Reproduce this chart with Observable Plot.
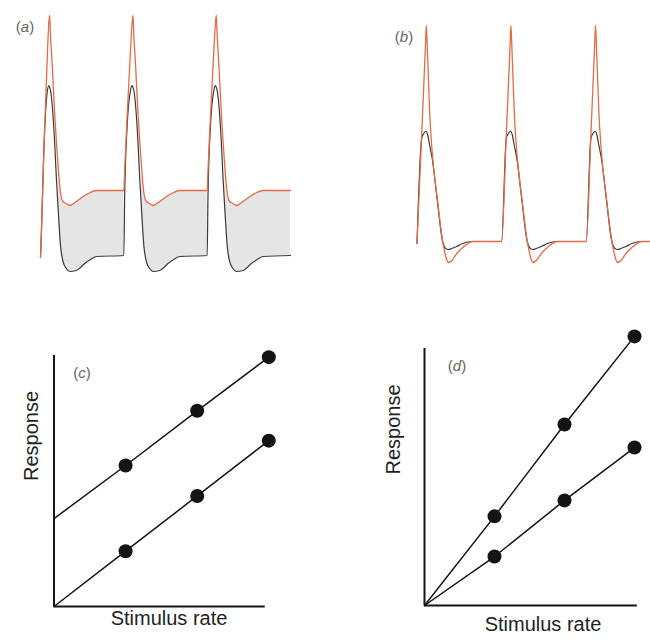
<!DOCTYPE html>
<html><head><meta charset="utf-8">
<script src="https://cdn.jsdelivr.net/npm/d3@7"></script>
<script src="https://cdn.jsdelivr.net/npm/@observablehq/plot@0.6"></script>
<style>
html,body{margin:0;padding:0;background:#fff;}
#fig{position:relative;width:650px;height:639px;overflow:hidden;font-family:"Liberation Sans",Arial,sans-serif;}
.lab{position:absolute;font-size:15px;line-height:1;color:#666;transform:translate(-50%,-50%);white-space:nowrap;}
</style></head><body><div id="fig"></div>
<script>
// ---------- Panel (a): membrane potential traces (a.u., mV-like), time in ms ----------
const aTime = [
  0, 1, 4, 8, 10, 11, 12, 14, 17, 19, 21.5, 24, 27, 31, 35, 43, 48, 53, 60, 67,
  100, 101, 104, 108, 110, 111, 112, 114, 117, 119, 121.5, 124, 127, 131, 135, 143, 148, 153, 160, 167,
  200, 201, 204, 208, 210, 211, 212, 214, 217, 219, 221.5, 224, 227, 231, 235, 243, 248, 253, 260, 267,
  300];
const aOrange = [
  -70.8, -62, -28, 8, 23.2, 26, 18, 6.8, -13.2, -24, -36, -44.8, -48.4, -49.2, -50, -48.4, -47.2, -46, -44.8, -44,
  -44, -36, -14, 12, 23.2, 26, 18, 6.8, -13.2, -24, -36, -44.8, -48.4, -49.2, -50, -48.4, -47.2, -46, -44.8, -44,
  -44, -36, -14, 12, 23.2, 26, 18, 6.8, -13.2, -24, -36, -44.8, -48.4, -49.2, -50, -48.4, -47.2, -46, -44.8, -44,
  -44];
const aBlack = [
  -70.8, -62, -28, -4.8, -2, -2.8, -4, -9.6, -24.8, -38.8, -53.2, -66, -72.4, -75.2, -76.4, -76, -74.8, -73.2, -71.6, -70.4,
  -70, -46, -18, -4, -2, -2.8, -4, -9.6, -24.8, -38.8, -53.2, -66, -72.4, -75.2, -76.4, -76, -74.8, -73.2, -71.6, -70.4,
  -70, -46, -18, -4, -2, -2.8, -4, -9.6, -24.8, -38.8, -53.2, -66, -72.4, -75.2, -76.4, -76, -74.8, -73.2, -71.6, -70.4,
  -70];
const aFillStart = [21.5, 121.5, 221.5];
const aFillEnd = [100, 200, 300];

// ---------- Panel (b) ----------
const bTime = [
  0, 5.5, 8, 10, 11, 12.5, 15, 18, 24, 30, 34, 37, 41, 47, 54, 66,
  100, 105.5, 108, 110, 111, 112.5, 115, 118, 124, 130, 134, 137, 141, 147, 154, 166,
  200, 205.5, 208, 210, 211, 212.5, 215, 218, 224, 230, 234, 237, 241, 247, 254, 266,
  276];
const bOrange = [
  -70.8, -27.6, -7.6, 8.4, 16.4, 4.4, -18.4, -34.4, -52.8, -69.2, -76, -78.4, -77.6, -74.8, -72.4, -70,
  -70, -27.6, -7.6, 8.4, 16.4, 4.4, -18.4, -34.4, -52.8, -69.2, -76, -78.4, -77.6, -74.8, -72.4, -70,
  -70, -27.6, -7.6, 8.4, 16.4, 4.4, -18.4, -34.4, -52.8, -69.2, -76, -78.4, -77.6, -74.8, -72.4, -70,
  -70];
const bBlack = [
  -70.8, -28.8, -26.8, -26, -26, -27.2, -31.6, -36.8, -53.6, -69.6, -72.8, -73.2, -72.8, -72, -70.8, -70,
  -70, -28.8, -26.8, -26, -26, -27.2, -31.6, -36.8, -53.6, -69.6, -72.8, -73.2, -72.8, -72, -70.8, -70,
  -70, -28.8, -26.8, -26, -26, -27.2, -31.6, -36.8, -53.6, -69.6, -72.8, -73.2, -72.8, -72, -70.8, -70,
  -70];

// ---------- Panel (c) ----------
const cRate = [1, 2, 3];
const cUpper = [2.55, 3.54, 4.51];
const cUpperIntercept = 1.59;
const cLower = [1, 2, 3];
const cLowerIntercept = 0;

// ---------- Panel (d) ----------
const dRate = [1, 2, 3];
const dUpper = [1.62, 3.29, 4.89];
const dLower = [0.89, 1.91, 2.87];
const dIntercept = 0;

// labels
const panelLabels = ["a", "b", "c", "d"];
const xLabel = "Stimulus rate";
const yLabel = "Response";

const ORANGE = "#e26c48", DARK = "#3a3a3a", FILL = "#e5e5e5", INK = "#141414";
const fig = document.getElementById("fig");
function place(node, left, top) {
  node.style.position = "absolute";
  node.style.left = left + "px";
  node.style.top = top + "px";
  fig.appendChild(node);
}

// (a)
const aRows = aTime.map((t, i) => ({t, orange: aOrange[i], black: aBlack[i]}));
const aFillRows = aFillStart.flatMap((s, k) =>
  aRows.filter(r => r.t >= s && r.t <= aFillEnd[k]).map(r => ({...r, seg: k})));
place(Plot.plot({
  width: 325, height: 300, marginLeft: 40, marginRight: 35, marginTop: 15, marginBottom: 28,
  style: {background: "transparent", overflow: "visible"},
  x: {domain: [0, 300], axis: null},
  y: {domain: [-76.8, 26], axis: null},
  marks: [
    Plot.areaY(aFillRows, {x: "t", y1: "black", y2: "orange", z: "seg", fill: FILL, curve: "monotone-x"}),
    Plot.line(aRows, {x: "t", y: "black", stroke: DARK, strokeWidth: 1.2, curve: "monotone-x"}),
    Plot.line(aRows, {x: "t", y: "orange", stroke: ORANGE, strokeWidth: 1.3, curve: "monotone-x"})
  ]
}), 0, 0);

// (b)
const bRows = bTime.map((t, i) => ({t, orange: bOrange[i], black: bBlack[i]}));
place(Plot.plot({
  width: 325, height: 300, marginLeft: 91.5, marginRight: 0, marginTop: 25, marginBottom: 38,
  style: {background: "transparent", overflow: "visible"},
  x: {domain: [0, 276], axis: null},
  y: {domain: [-78.4, 16.4], axis: null},
  marks: [
    Plot.line(bRows, {x: "t", y: "black", stroke: DARK, strokeWidth: 1.2, curve: "monotone-x"}),
    Plot.line(bRows, {x: "t", y: "orange", stroke: ORANGE, strokeWidth: 1.3, curve: "monotone-x"})
  ]
}), 325, 0);

function ratePanel(opts) {
  const lines = opts.series.map((s, k) => [{x: 0, y: s.intercept, k}, ...opts.rate.map((r, i) => ({x: r, y: s.values[i], k}))]).flat();
  const pts = opts.series.flatMap((s, k) => opts.rate.map((r, i) => ({x: r, y: s.values[i], k})));
  return Plot.plot({
    width: 325, height: 319,
    marginLeft: opts.ml, marginRight: opts.mr, marginTop: opts.mt, marginBottom: opts.mb,
    style: {background: "transparent", overflow: "visible", fontFamily: "Liberation Sans, Arial, sans-serif"},
    x: {domain: [0, 3], axis: null},
    y: {domain: [0, opts.yTop], axis: null},
    marks: [
      Plot.ruleX([0], {y1: 0, y2: opts.yTop, stroke: INK, strokeWidth: 2}),
      Plot.ruleY([0], {x1: 0, x2: opts.xEnd, stroke: INK, strokeWidth: 2}),
      Plot.line(lines, {x: "x", y: "y", z: "k", stroke: INK, strokeWidth: 1.5}),
      Plot.dot(pts, {x: "x", y: "y", r: 7, fill: INK, stroke: null}),
      Plot.text([yLabel], {frameAnchor: "left", text: d => d, rotate: -90, dx: opts.ydx, dy: opts.ydy, fontSize: 20, fill: "#222"}),
      Plot.text([xLabel], {frameAnchor: "bottom", text: d => d, dx: opts.xdx, dy: opts.xdy, fontSize: 20, fill: "#222"})
    ]
  });
}

place(ratePanel({
  rate: cRate,
  series: [{intercept: cUpperIntercept, values: cUpper}, {intercept: cLowerIntercept, values: cLower}],
  ml: 53.5, mr: 56.7, mt: 35, mb: 33, yTop: 4.54, xEnd: 2.95,
  ydx: -22.5, ydy: 0, xdx: 7.6, xdy: 18
}), 0, 320);

place(ratePanel({
  rate: dRate,
  series: [{intercept: dIntercept, values: dUpper}, {intercept: dIntercept, values: dLower}],
  ml: 99, mr: 16, mt: 28, mb: 34, yTop: 4.67, xEnd: 3.04,
  ydx: -31, ydy: -2.5, xdx: 13.5, xdy: 25
}), 325, 320);

// panel letters
const labelPos = [[25, 26], [404, 36], [82, 372], [457, 365]];
panelLabels.forEach((l, i) => {
  const s = document.createElement("span");
  s.className = "lab";
  s.innerHTML = "(<i>" + l + "</i>)";
  s.style.left = labelPos[i][0] + "px";
  s.style.top = labelPos[i][1] + "px";
  fig.appendChild(s);
});
</script></body></html>
